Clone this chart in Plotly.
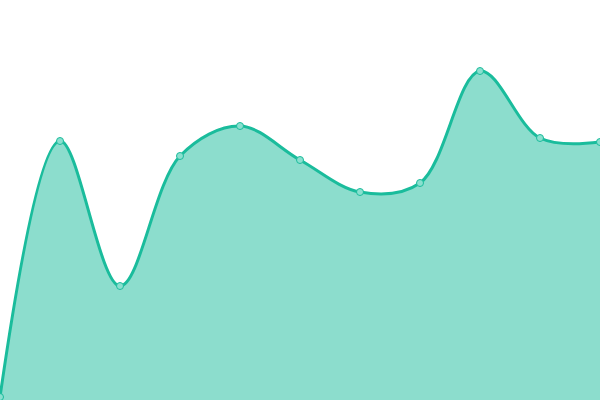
import plotly.graph_objects as go

# x positions (index) and values
x_vals = [0, 1, 2, 3, 4, 5, 6, 7, 8, 9, 10]
y_vals = [3, 259, 114, 244, 274, 240, 208, 217, 329, 262, 258]

fig = go.Figure()

fig.add_trace(
    go.Scatter(
        x=x_vals,
        y=y_vals,
        mode="lines+markers",
        fill="tozeroy",
        fillcolor="rgba(26,188,156,0.5)",
        line=dict(color="#1abc9c", width=3, shape="spline", smoothing=1),
        marker=dict(
            size=7,
            color="#8ae0cf",
            line=dict(color="#1abc9c", width=1),
        ),
        hoverinfo="skip",
    )
)

fig.update_layout(
    width=600,
    height=400,
    margin=dict(l=0, r=0, t=0, b=0),
    paper_bgcolor="white",
    plot_bgcolor="white",
    showlegend=False,
)

fig.update_xaxes(visible=False, range=[0, 10])
fig.update_yaxes(visible=False, range=[0, 400])

# drop the default page margin so the chart sits flush in the window
fig.write_html(
    "out.html",
    config={"displayModeBar": False},
    post_script="document.body.style.margin='0';document.body.style.overflow='hidden';",
)
